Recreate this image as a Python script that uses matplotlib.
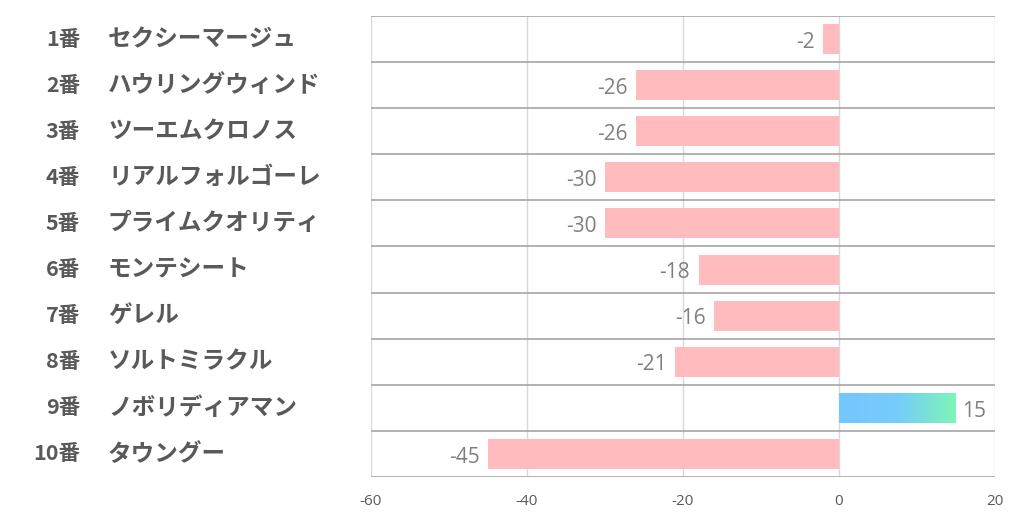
import matplotlib
matplotlib.use("Agg")
import matplotlib.pyplot as plt
import numpy as np
from matplotlib.colors import LinearSegmentedColormap

plt.rcParams['font.family'] = ['Noto Sans CJK JP', 'DejaVu Sans']

numbers = ["1番", "2番", "3番", "4番", "5番", "6番", "7番", "8番", "9番", "10番"]
names = ["セクシーマージュ", "ハウリングウィンド", "ツーエムクロノス", "リアルフォルゴーレ",
         "プライムクオリティ", "モンテシート", "ゲレル", "ソルトミラクル", "ノボリディアマン", "タウングー"]
values = [-2, -26, -26, -30, -30, -18, -16, -21, 15, -45]
xticks = [-60, -40, -20, 0, 20]

fig = plt.figure(figsize=(10.22, 5.22), dpi=100)
ax = fig.add_axes([371/1022, 1-477/522, (995-371)/1022, (477-16)/522])

n = len(values)
ax.set_xlim(-60, 20)
ax.set_ylim(n - 0.5, -0.5)

grad = LinearSegmentedColormap.from_list("g", [(0, "#74C6FF"), (0.5, "#76CCFA"), (1, "#7DF5B6")])
bh = 0.65
vfont = dict(fontsize=15, color="#7F7F7F", family=['Open Sans', 'DejaVu Sans'])
for i, v in enumerate(values):
    if v < 0:
        ax.barh(i, v, height=bh, color="#FFBBBD", zorder=3)
        ax.text(v - 1.1, i + 0.07, str(v), ha="right", va="center", **vfont)
    else:
        g = np.linspace(0, 1, 256).reshape(1, -1)
        ax.imshow(g, cmap=grad, aspect="auto", extent=[0, v, i + bh/2, i - bh/2], zorder=3)
        ax.text(v + 0.8, i + 0.07, str(v), ha="left", va="center", **vfont)
ax.set_xlim(-60, 20)
ax.set_ylim(n - 0.5, -0.5)

for x in xticks:
    ax.axvline(x, color="#D9D9D9", lw=1, zorder=1)
for k in range(n + 1):
    ax.axhline(k - 0.5, color="#A6A6A6", lw=1.2, zorder=2)

for s in ax.spines.values():
    s.set_visible(False)
ax.set_yticks([])
ax.set_xticks(xticks)
ax.set_xticklabels([str(t) for t in xticks], fontsize=11, color="#595959", family=['Open Sans', 'DejaVu Sans'])
ax.tick_params(axis="x", length=0, pad=12)

for i in range(n):
    yf = 1 - (16 + (i + 0.5) * 46.1) / 522
    fig.text(80/1022, yf, numbers[i], ha="right", va="center", fontsize=15.5, fontweight="bold", color="#595959")
    fig.text(108/1022, yf, names[i], ha="left", va="center", fontsize=17, fontweight="bold", color="#595959")

fig.savefig("out.png", dpi=100)
